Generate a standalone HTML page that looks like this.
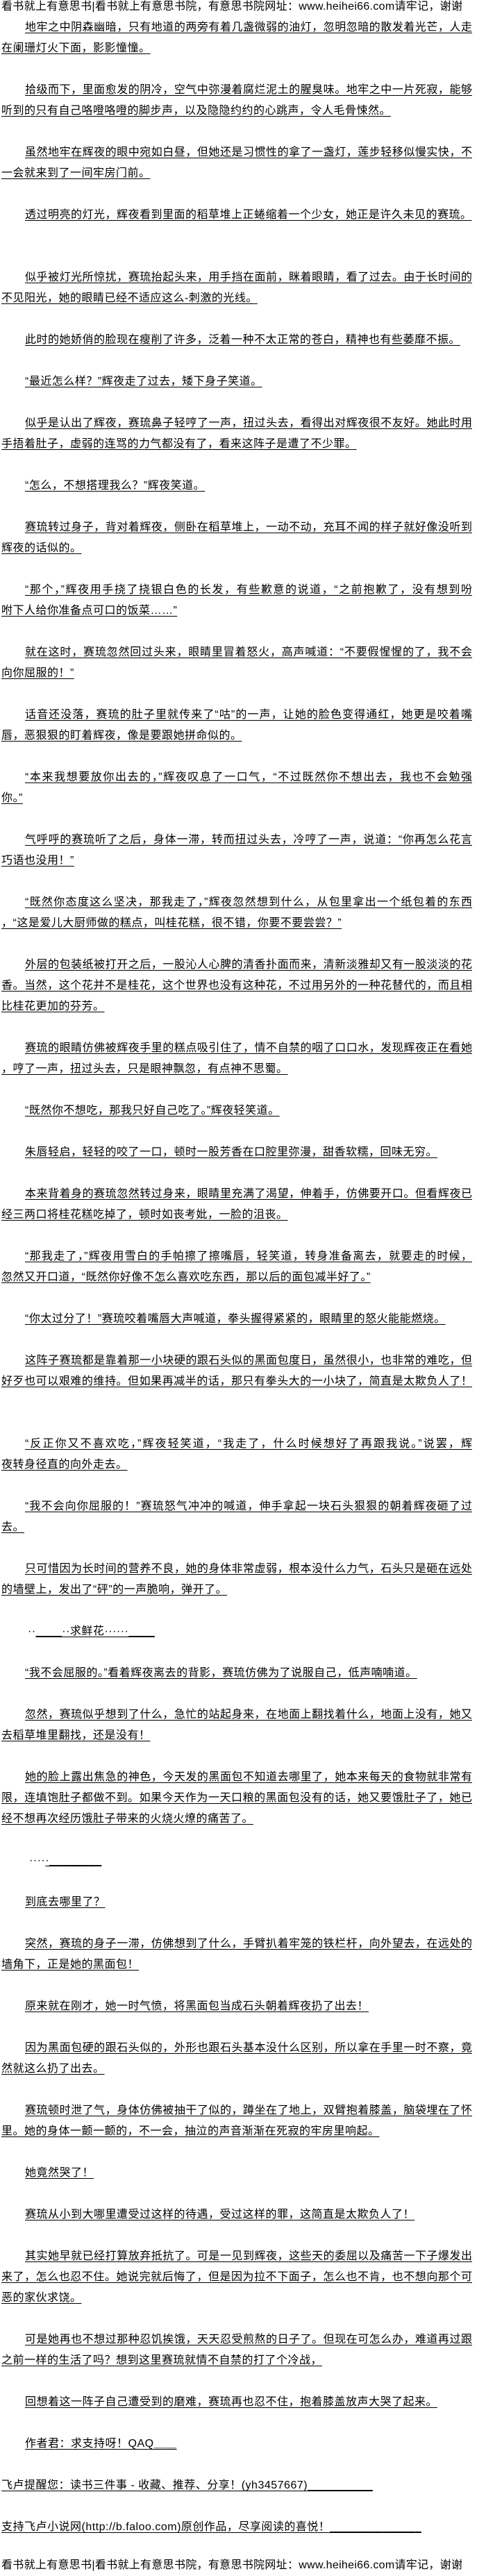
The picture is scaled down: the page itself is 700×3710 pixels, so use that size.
<!DOCTYPE html>
<html><head><meta charset="utf-8">
<style>
html,body{margin:0;padding:0;background:#fff;}
body{width:700px;height:3710px;position:relative;overflow:hidden;
font-family:"Liberation Sans","Noto Sans CJK SC","WenQuanYi Zen Hei",sans-serif;font-size:16px;color:#000;}
.l{position:absolute;left:2px;width:678px;height:30px;line-height:30px;white-space:nowrap;letter-spacing:0.5px;}
.l span{text-decoration:underline;text-underline-offset:3px;text-decoration-thickness:1px;}
.i{padding-left:34px;width:644px;}
.j{text-align:justify;text-align-last:justify;letter-spacing:0;}
.j span{display:inline;}
.h{position:absolute;left:2px;top:-5px;width:720px;line-height:30px;white-space:nowrap;font-size:16px;letter-spacing:0.3px;}
</style></head><body>
<div class="h">看书就上有意思书|看书就上有意思书院，有意思书院网址：www.heihei66.com请牢记，谢谢</div>

<div class="l i j" style="top:25px"><span>地牢之中阴森幽暗，只有地道的两旁有着几盏微弱的油灯，忽明忽暗的散发着光芒，人走</span></div>
<div class="l" style="top:55px"><span>在阑珊灯火下面，影影憧憧。</span></div>

<div class="l i j" style="top:115px"><span>拾级而下，里面愈发的阴冷，空气中弥漫着腐烂泥土的腥臭味。地牢之中一片死寂，能够</span></div>
<div class="l" style="top:145px"><span>听到的只有自己咯噔咯噔的脚步声，以及隐隐约约的心跳声，令人毛骨悚然。</span></div>

<div class="l i j" style="top:205px"><span>虽然地牢在辉夜的眼中宛如白昼，但她还是习惯性的拿了一盏灯，莲步轻移似慢实快，不</span></div>
<div class="l" style="top:235px"><span>一会就来到了一间牢房门前。</span></div>

<div class="l i" style="top:295px"><span>透过明亮的灯光，辉夜看到里面的稻草堆上正蜷缩着一个少女，她正是许久未见的赛琉。</span></div>

<div class="l i j" style="top:385px"><span>似乎被灯光所惊扰，赛琉抬起头来，用手挡在面前，眯着眼睛，看了过去。由于长时间的</span></div>
<div class="l" style="top:415px"><span>不见阳光，她的眼睛已经不适应这么-刺激的光线。</span></div>

<div class="l i" style="top:475px"><span>此时的她娇俏的脸现在瘦削了许多，泛着一种不太正常的苍白，精神也有些萎靡不振。</span></div>

<div class="l i" style="top:535px"><span>“最近怎么样？”辉夜走了过去，矮下身子笑道。</span></div>

<div class="l i j" style="top:595px"><span>似乎是认出了辉夜，赛琉鼻子轻哼了一声，扭过头去，看得出对辉夜很不友好。她此时用</span></div>
<div class="l" style="top:625px"><span>手捂着肚子，虚弱的连骂的力气都没有了，看来这阵子是遭了不少罪。</span></div>

<div class="l i" style="top:685px"><span>“怎么，不想搭理我么？”辉夜笑道。</span></div>

<div class="l i j" style="top:745px"><span>赛琉转过身子，背对着辉夜，侧卧在稻草堆上，一动不动，充耳不闻的样子就好像没听到</span></div>
<div class="l" style="top:775px"><span>辉夜的话似的。</span></div>

<div class="l i j" style="top:835px"><span>“那个，”辉夜用手挠了挠银白色的长发，有些歉意的说道，“之前抱歉了，没有想到吩</span></div>
<div class="l" style="top:865px"><span>咐下人给你准备点可口的饭菜……”</span></div>

<div class="l i j" style="top:925px"><span>就在这时，赛琉忽然回过头来，眼睛里冒着怒火，高声喊道：“不要假惺惺的了，我不会</span></div>
<div class="l" style="top:955px"><span>向你屈服的！”</span></div>

<div class="l i j" style="top:1015px"><span>话音还没落，赛琉的肚子里就传来了“咕”的一声，让她的脸色变得通红，她更是咬着嘴</span></div>
<div class="l" style="top:1045px"><span>唇，恶狠狠的盯着辉夜，像是要跟她拼命似的。</span></div>

<div class="l i j" style="top:1105px"><span>“本来我想要放你出去的，”辉夜叹息了一口气，“不过既然你不想出去，我也不会勉强</span></div>
<div class="l" style="top:1135px"><span>你。”</span></div>

<div class="l i j" style="top:1195px"><span>气呼呼的赛琉听了之后，身体一滞，转而扭过头去，冷哼了一声，说道：“你再怎么花言</span></div>
<div class="l" style="top:1225px"><span>巧语也没用！”</span></div>

<div class="l i j" style="top:1285px"><span>“既然你态度这么坚决，那我走了，”辉夜忽然想到什么，从包里拿出一个纸包着的东西</span></div>
<div class="l" style="top:1315px"><span>，“这是爱儿大厨师做的糕点，叫桂花糕，很不错，你要不要尝尝？”</span></div>

<div class="l i j" style="top:1375px"><span>外层的包装纸被打开之后，一股沁人心脾的清香扑面而来，清新淡雅却又有一股淡淡的花</span></div>
<div class="l j" style="top:1405px"><span>香。当然，这个花并不是桂花，这个世界也没有这种花，不过用另外的一种花替代的，而且相</span></div>
<div class="l" style="top:1435px"><span>比桂花更加的芬芳。</span></div>

<div class="l i j" style="top:1495px"><span>赛琉的眼睛仿佛被辉夜手里的糕点吸引住了，情不自禁的咽了口口水，发现辉夜正在看她</span></div>
<div class="l" style="top:1525px"><span>，哼了一声，扭过头去，只是眼神飘忽，有点神不思蜀。</span></div>

<div class="l i" style="top:1585px"><span>“既然你不想吃，那我只好自己吃了。”辉夜轻笑道。</span></div>

<div class="l i" style="top:1645px"><span>朱唇轻启，轻轻的咬了一口，顿时一股芳香在口腔里弥漫，甜香软糯，回味无穷。</span></div>

<div class="l i j" style="top:1705px"><span>本来背着身的赛琉忽然转过身来，眼睛里充满了渴望，伸着手，仿佛要开口。但看辉夜已</span></div>
<div class="l" style="top:1735px"><span>经三两口将桂花糕吃掉了，顿时如丧考妣，一脸的沮丧。</span></div>

<div class="l i j" style="top:1795px"><span>“那我走了，”辉夜用雪白的手帕擦了擦嘴唇，轻笑道，转身准备离去，就要走的时候，</span></div>
<div class="l" style="top:1825px"><span>忽然又开口道，“既然你好像不怎么喜欢吃东西，那以后的面包减半好了。”</span></div>

<div class="l i" style="top:1885px"><span>“你太过分了！”赛琉咬着嘴唇大声喊道，拳头握得紧紧的，眼睛里的怒火能能燃烧。</span></div>

<div class="l i j" style="top:1945px"><span>这阵子赛琉都是靠着那一小块硬的跟石头似的黑面包度日，虽然很小，也非常的难吃，但</span></div>
<div class="l j" style="top:1975px"><span>好歹也可以艰难的维持。但如果再减半的话，那只有拳头大的一小块了，简直是太欺负人了！</span></div>

<div class="l i j" style="top:2065px"><span>“反正你又不喜欢吃，”辉夜轻笑道，“我走了，什么时候想好了再跟我说。”说罢，辉</span></div>
<div class="l" style="top:2095px"><span>夜转身径直的向外走去。</span></div>

<div class="l i j" style="top:2155px"><span>“我不会向你屈服的！”赛琉怒气冲冲的喊道，伸手拿起一块石头狠狠的朝着辉夜砸了过</span></div>
<div class="l" style="top:2185px"><span>去。</span></div>

<div class="l i j" style="top:2245px"><span>只可惜因为长时间的营养不良，她的身体非常虚弱，根本没什么力气，石头只是砸在远处</span></div>
<div class="l" style="top:2275px"><span>的墙壁上，发出了“砰”的一声脆响，弹开了。</span></div>

<div class="l" style="top:2335px;left:40px">··<span>____··求鲜花······____</span></div>

<div class="l i" style="top:2395px"><span>“我不会屈服的。”看着辉夜离去的背影，赛琉仿佛为了说服自己，低声喃喃道。</span></div>

<div class="l i j" style="top:2455px"><span>忽然，赛琉似乎想到了什么，急忙的站起身来，在地面上翻找着什么，地面上没有，她又</span></div>
<div class="l" style="top:2485px"><span>去稻草堆里翻找，还是没有！</span></div>

<div class="l i j" style="top:2545px"><span>她的脸上露出焦急的神色，今天发的黑面包不知道去哪里了，她本来每天的食物就非常有</span></div>
<div class="l j" style="top:2575px"><span>限，连填饱肚子都做不到。如果今天作为一天口粮的黑面包没有的话，她又要饿肚子了，她已</span></div>
<div class="l" style="top:2605px"><span>经不想再次经历饿肚子带来的火烧火燎的痛苦了。</span></div>

<div class="l" style="top:2665px;left:42px">····<span>·________</span></div>

<div class="l i" style="top:2725px"><span>到底去哪里了？</span></div>

<div class="l i j" style="top:2785px"><span>突然，赛琉的身子一滞，仿佛想到了什么，手臂扒着牢笼的铁栏杆，向外望去，在远处的</span></div>
<div class="l" style="top:2815px"><span>墙角下，正是她的黑面包！</span></div>

<div class="l i" style="top:2875px"><span>原来就在刚才，她一时气愤，将黑面包当成石头朝着辉夜扔了出去！</span></div>

<div class="l i j" style="top:2935px"><span>因为黑面包硬的跟石头似的，外形也跟石头基本没什么区别，所以拿在手里一时不察，竟</span></div>
<div class="l" style="top:2965px"><span>然就这么扔了出去。</span></div>

<div class="l i j" style="top:3025px"><span>赛琉顿时泄了气，身体仿佛被抽干了似的，蹲坐在了地上，双臂抱着膝盖，脑袋埋在了怀</span></div>
<div class="l" style="top:3055px"><span>里。她的身体一颤一颤的，不一会，抽泣的声音渐渐在死寂的牢房里响起。</span></div>

<div class="l i" style="top:3115px"><span>她竟然哭了！</span></div>

<div class="l i" style="top:3175px"><span>赛琉从小到大哪里遭受过这样的待遇，受过这样的罪，这简直是太欺负人了！</span></div>

<div class="l i j" style="top:3235px"><span>其实她早就已经打算放弃抵抗了。可是一见到辉夜，这些天的委屈以及痛苦一下子爆发出</span></div>
<div class="l j" style="top:3265px"><span>来了，怎么也忍不住。她说完就后悔了，但是因为拉不下面子，怎么也不肯，也不想向那个可</span></div>
<div class="l" style="top:3295px"><span>恶的家伙求饶。</span></div>

<div class="l i j" style="top:3355px"><span>可是她再也不想过那种忍饥挨饿，天天忍受煎熬的日子了。但现在可怎么办，难道再过跟</span></div>
<div class="l" style="top:3385px"><span>之前一样的生活了吗？想到这里赛琉就情不自禁的打了个冷战，</span></div>

<div class="l i" style="top:3445px"><span>回想着这一阵子自己遭受到的磨难，赛琉再也忍不住，抱着膝盖放声大哭了起来。</span></div>

<div class="l i" style="top:3505px"><span>作者君：求支持呀！QAQ＿＿</span></div>

<div class="l" style="top:3565px"><span>飞卢提醒您：读书三件事 - 收藏、推荐、分享！(yh3457667)__________</span></div>

<div class="l" style="top:3625px"><span>支持飞卢小说网(http://b.faloo.com)原创作品，尽享阅读的喜悦！______________</span></div>

<div class="h" style="top:3680px">看书就上有意思书|看书就上有意思书院，有意思书院网址：www.heihei66.com请牢记，谢谢</div>
</body></html>
